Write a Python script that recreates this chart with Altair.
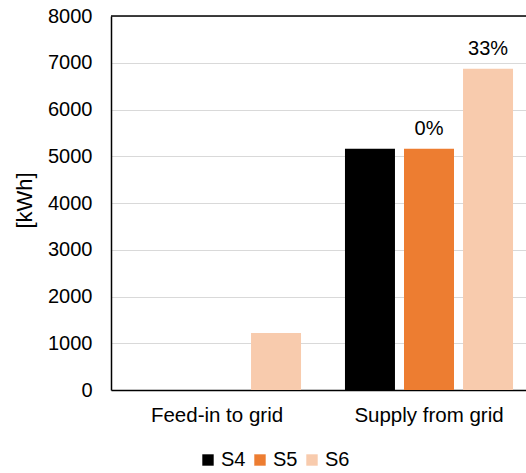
import altair as alt
import pandas as pd

# Grid energy per scenario
categories = ["Feed-in to grid", "Supply from grid"]
series = ["S4", "S5", "S6"]
feed_in = [0, 0, 1220]
supply = [5160, 5160, 6870]
supply_labels = ["", "0%", "33%"]
colors = ["#000000", "#ED7D31", "#F8CBAD"]

rows = []
for s, v in zip(series, feed_in):
    rows.append({"category": categories[0], "series": s, "value": v, "label": ""})
for s, v, lab in zip(series, supply, supply_labels):
    rows.append({"category": categories[1], "series": s, "value": v, "label": lab})
df = pd.DataFrame(rows)

FONT = "Liberation Sans"

# the category band runs a little past the right edge of the canvas
x_enc = alt.X(
    "category:N",
    sort=categories,
    scale=alt.Scale(range=[0, 424], paddingInner=0.165, paddingOuter=0.0825),
    axis=alt.Axis(
        title=None, labelAngle=0, ticks=False, domain=True, domainColor="black",
        domainWidth=1.5, labelFontSize=20.5, labelFont=FONT, labelColor="black",
        labelBaseline="alphabetic", labelPadding=31,
    ),
)
xoff_enc = alt.XOffset(
    "series:N", sort=series, scale=alt.Scale(paddingInner=0.153, paddingOuter=0.076)
)

bars = alt.Chart(df).mark_bar().encode(
    x=x_enc,
    xOffset=xoff_enc,
    y=alt.Y(
        "value:Q",
        scale=alt.Scale(domain=[0, 8000], nice=False),
        axis=alt.Axis(
            title="[kWh]", values=list(range(0, 8001, 1000)), format="d", ticks=False,
            domain=True, domainColor="black", domainWidth=1.5,
            grid=True, gridColor="#D9D9D9", gridWidth=1,
            labelFontSize=20, labelFont=FONT, labelColor="black", labelPadding=19,
            titleFontSize=22, titleFont=FONT, titleFontWeight="normal",
            titleColor="black", titleAngle=270, titleX=-87, titleY=184,
            titleAlign="center", titleBaseline="middle",
        ),
    ),
    color=alt.Color(
        "series:N",
        sort=series,
        scale=alt.Scale(domain=series, range=colors),
        legend=alt.Legend(
            title=None, orient="none", direction="horizontal",
            legendX=87, legendY=434, symbolType="square", symbolSize=130,
            symbolStrokeWidth=0, labelFontSize=20, labelFont=FONT,
            labelColor="black", labelOffset=3, columnPadding=4, padding=0,
        ),
    ),
)

text = alt.Chart(df).transform_filter(alt.datum.label != "").mark_text(
    baseline="alphabetic", dy=-14, fontSize=20, font=FONT, color="black"
).encode(
    x=alt.X("category:N", sort=categories),
    xOffset=alt.XOffset("series:N", sort=series),
    y="value:Q",
    text="label:N",
)

top_border = alt.Chart().mark_rule(color="black", strokeWidth=1.5).encode(
    y=alt.datum(8000)
)

chart = (
    alt.layer(bars, text, top_border)
    .properties(
        width=415,
        height=374,
        padding={"left": 111, "top": 16, "right": 0, "bottom": 83},
        autosize=alt.AutoSizeParams(type="none"),
        background="white",
    )
    .configure_view(stroke=None)
)

chart.save("out.html", embed_options={"renderer": "svg", "actions": False})
